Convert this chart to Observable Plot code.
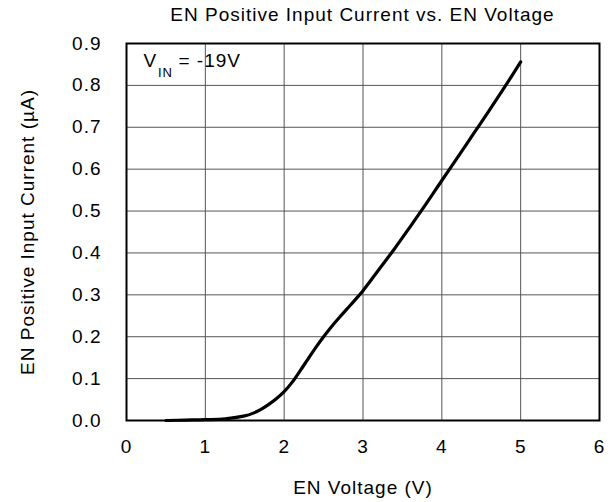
<!DOCTYPE html>
<html>
<head>
<meta charset="utf-8">
<script src="https://cdn.jsdelivr.net/npm/d3@7"></script>
<script src="https://cdn.jsdelivr.net/npm/@observablehq/plot@0.6"></script>
<style>
  html, body { margin: 0; padding: 0; background: white; }
  #wrap { position: relative; width: 613px; height: 502px; overflow: hidden; }
  #title { position: absolute; left: 126px; top: 0; width: 473px; height: 28px; line-height: 30px;
           text-align: center; font-family: "Liberation Sans", Arial, sans-serif; font-size: 19px;
           letter-spacing: 1px; color: #000; white-space: nowrap; }
  #chart { position: absolute; left: 0; top: 28px; }
  #chart svg { display: block; }
</style>
</head>
<body>
<div id="wrap">
  <div id="title">EN Positive Input Current vs. EN Voltage</div>
  <div id="chart"></div>
</div>
<script>
const titleText = "EN Positive Input Current vs. EN Voltage";
const xLabel = "EN Voltage (V)";
const yLabel = "EN Positive Input Current (µA)";
const xTicks = [0, 1, 2, 3, 4, 5, 6];
const yTicks = [0, 0.1, 0.2, 0.3, 0.4, 0.5, 0.6, 0.7, 0.8, 0.9];
const enVoltage = [0.5, 0.75, 1.0, 1.25, 1.5, 1.6, 1.7, 1.8, 1.9, 2.0, 2.1, 2.2, 2.3, 2.4, 2.5, 2.6, 2.7, 2.8, 2.9, 3.0, 3.2, 3.4, 3.6, 3.8, 4.0, 4.2, 4.4, 4.6, 4.8, 5.0];
const current   = [0.0, 0.001, 0.002, 0.004, 0.011, 0.017, 0.026, 0.038, 0.052, 0.069, 0.091, 0.118, 0.146, 0.174, 0.2, 0.224, 0.246, 0.267, 0.288, 0.31, 0.36, 0.41, 0.463, 0.517, 0.573, 0.628, 0.684, 0.74, 0.797, 0.856];
const annotMain = "V";
const annotSub = "IN";
const annotRest = "= -19V";

document.getElementById("title").textContent = titleText;
const data = enVoltage.map((v, i) => ({v, c: current[i]}));

const chart = Plot.plot({
  width: 613,
  height: 474,
  marginTop: 15,
  marginBottom: 82,
  marginLeft: 126,
  marginRight: 14,
  style: {fontFamily: "'Liberation Sans', Arial, sans-serif", fontSize: "19px", letterSpacing: "1px", background: "white", color: "black"},
  x: {domain: [0, 6], ticks: xTicks, tickSize: 0, tickPadding: 19, label: null, tickFormat: d3.format("d")},
  y: {domain: [0, 0.9], ticks: yTicks, tickSize: 0, tickPadding: 25, label: null, tickFormat: d3.format(".1f")},
  marks: [
    Plot.gridX(xTicks, {stroke: "#555", strokeOpacity: 1, strokeWidth: 1}),
    Plot.gridY(yTicks, {stroke: "#555", strokeOpacity: 1, strokeWidth: 1}),
    Plot.frame({stroke: "black", strokeWidth: 2}),
    Plot.line(data, {x: "v", y: "c", stroke: "black", strokeWidth: 3.2, curve: "catmull-rom"}),
    Plot.text([annotMain], {frameAnchor: "top-left", dx: 17, dy: 23, lineAnchor: "bottom", textAnchor: "start", fontSize: 19}),
    Plot.text([annotSub], {frameAnchor: "top-left", dx: 31.5, dy: 33, lineAnchor: "bottom", textAnchor: "start", fontSize: 13, letterSpacing: "0.5px"}),
    Plot.text([annotRest], {frameAnchor: "top-left", dx: 52, dy: 23, lineAnchor: "bottom", textAnchor: "start", fontSize: 19}),
    Plot.text([xLabel], {frameAnchor: "bottom", dy: 73, lineAnchor: "bottom", textAnchor: "middle", fontSize: 19}),
    Plot.text([yLabel], {frameAnchor: "left", dx: -93, rotate: -90, lineAnchor: "bottom", textAnchor: "middle", fontSize: 19})
  ]
});
document.getElementById("chart").appendChild(chart);
</script>
</body>
</html>
